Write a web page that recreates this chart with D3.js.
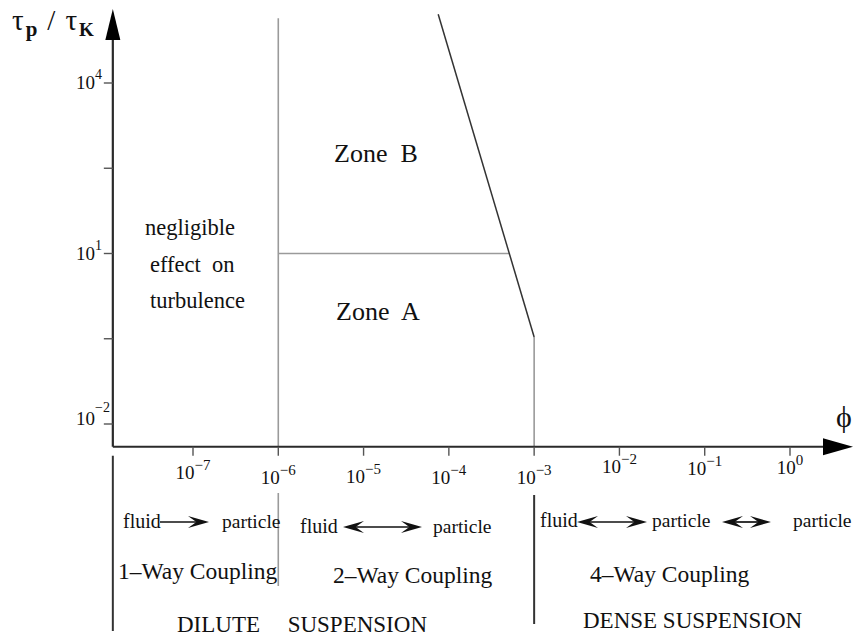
<!DOCTYPE html>
<html><head><meta charset="utf-8">
<script src="https://cdn.jsdelivr.net/npm/d3@7"></script>
<style>
html,body{margin:0;padding:0;background:#fff;}
svg text{font-family:'Liberation Serif','DejaVu Serif',serif;fill:#111;}
</style></head>
<body><svg id="c" width="855" height="639" font-family="'Liberation Serif','DejaVu Serif',serif"></svg>
<script>
// ---- data ----
const xTickValues = [1e-7, 1e-6, 1e-5, 1e-4, 1e-3, 1e-2, 1e-1, 1e0];
const xTickExponents = ["−7", "−6", "−5", "−4", "−3", "−2", "−1", "0"];
const yTickValues = [1e-2, Math.pow(10, -0.5), 1e1, Math.pow(10, 2.5), 1e4];
const yTickExponents = ["−2", "", "1", "", "4"];
const phiOneTwoWay = 1e-6;      // 1-way / 2-way boundary
const phiDilutDense = 1e-3;     // dilute / dense boundary
const tauZoneAB = 1e1;          // zone A / zone B boundary
const phiAxisMin = Math.pow(10, -7.94);
const tauAxisMin = Math.pow(10, -2.4);
const tauGridTop = Math.pow(10, 5.14);
const diagPhi = [Math.pow(10, -4.125), 1e-3];
const diagTau = [Math.pow(10, 5.21), Math.pow(10, -0.47)];

const FONT = "'Liberation Serif','DejaVu Serif',serif";
const svg = d3.select("#c");
const x = d3.scaleLog().domain([1e-7, 1e0]).range([193, 790]);
const y = d3.scaleLog().domain([1e-2, 1e4]).range([424, 83]);

const X0 = x(phiAxisMin), Y0 = y(tauAxisMin);
const axisCol = "#2a2a2a", gridCol = "#9a9a9a";

// zone lines
const g = svg.append("g");
g.append("line").attr("x1", x(phiOneTwoWay)).attr("x2", x(phiOneTwoWay))
  .attr("y1", y(tauGridTop)).attr("y2", Y0).attr("stroke", gridCol).attr("stroke-width", 1.6);
const lp0 = Math.log10(diagPhi[0]), lp1 = Math.log10(diagPhi[1]);
const lt0 = Math.log10(diagTau[0]), lt1 = Math.log10(diagTau[1]);
const tI = (Math.log10(tauZoneAB) - lt0) / (lt1 - lt0);
const phiI = Math.pow(10, lp0 + tI * (lp1 - lp0));
g.append("line").attr("x1", x(phiOneTwoWay)).attr("x2", x(phiI))
  .attr("y1", y(tauZoneAB)).attr("y2", y(tauZoneAB)).attr("stroke", gridCol).attr("stroke-width", 1.6);
g.append("line").attr("x1", x(phiDilutDense)).attr("x2", x(phiDilutDense))
  .attr("y1", y(diagTau[1])).attr("y2", Y0).attr("stroke", gridCol).attr("stroke-width", 1.6);
g.append("path").datum(diagPhi.map((p, i) => [p, diagTau[i]]))
  .attr("d", d3.line().x(d => x(d[0])).y(d => y(d[1])))
  .attr("fill", "none").attr("stroke", "#333").attr("stroke-width", 1.5);

// axes
const ax = svg.append("g");
ax.append("line").attr("x1", X0).attr("x2", X0).attr("y1", Y0).attr("y2", 38)
  .attr("stroke", axisCol).attr("stroke-width", 2.2);
ax.append("path").attr("d", `M${X0},9 L${X0 - 7.5},40 L${X0 + 7.5},40 Z`).attr("fill", "#000");
ax.append("line").attr("x1", X0).attr("x2", 826).attr("y1", Y0).attr("y2", Y0)
  .attr("stroke", axisCol).attr("stroke-width", 2.2);
ax.append("path").attr("d", `M853,${Y0} L823,${Y0 - 8.5} L823,${Y0 + 8.5} Z`).attr("fill", "#000");

// x ticks
const xt = svg.append("g").selectAll("g").data(xTickValues).join("g")
  .attr("transform", d => `translate(${x(d)},0)`);
xt.append("line").attr("y1", Y0).attr("y2", Y0 + 9).attr("stroke", "#555").attr("stroke-width", 1.4);
const xBase = [479, 484, 483, 484, 484, 473, 475, 474];
xt.append("text").attr("y", (d, i) => xBase[i]).attr("text-anchor", "middle")
  .attr("font-family", FONT).attr("font-size", 19).attr("fill", "#222")
  .each(function (d, i) {
    const t = d3.select(this);
    t.append("tspan").text("10");
    t.append("tspan").attr("font-size", 15).attr("dy", -9).text(xTickExponents[i]);
  });

// y ticks
const yt = svg.append("g").selectAll("g").data(yTickValues).join("g")
  .attr("transform", d => `translate(0,${y(d)})`);
yt.append("line").attr("x1", X0 - 9).attr("x2", X0).attr("stroke", "#555").attr("stroke-width", 1.4);
yt.filter((d, i) => yTickExponents[i] !== "").append("text")
  .attr("x", 76).attr("y", d => yTickExponents[yTickValues.indexOf(d)] === "−2" ? 1 : 6)
  .attr("font-family", FONT).attr("font-size", 19).attr("fill", "#222")
  .each(function (d) {
    const e = yTickExponents[yTickValues.indexOf(d)];
    const t = d3.select(this);
    t.append("tspan").text("10");
    t.append("tspan").attr("font-size", 14).attr("dy", e === "−2" ? -13 : -10).text(e);
  });

// axis labels
const yl = svg.append("text").attr("x", 12).attr("y", 30).attr("font-size", 29).attr("font-family", FONT);
yl.append("tspan").text("τ");
yl.append("tspan").attr("font-size", 21).attr("font-weight", "bold").attr("dx", 2).attr("dy", 6).text("p");
yl.append("tspan").attr("dy", -6).attr("dx", 10).text("/");
yl.append("tspan").attr("dx", 10).text("τ");
yl.append("tspan").attr("font-size", 19).attr("font-weight", "bold").attr("dx", 2).attr("dy", 6).text("K");
svg.append("text").attr("x", 844).attr("y", 427).attr("text-anchor", "middle").attr("font-family", FONT).attr("font-size", 30).text("ϕ");

// text helper
const lab = (t, xx, yy, fs, anchor) => svg.append("text").attr("x", xx).attr("y", yy)
  .attr("font-family", FONT).attr("font-size", fs).attr("text-anchor", anchor || "start")
  .style("white-space", "pre").text(t);
lab("Zone  B", 376, 162, 26, "middle");
lab("Zone  A", 378, 320, 26, "middle");
lab("negligible", 145, 235, 22.5);
lab("effect  on", 150, 272, 22.5);
lab("turbulence", 150, 308, 22.5);

// lower dividers
const dv = svg.append("g");
dv.append("line").attr("x1", X0).attr("x2", X0).attr("y1", Y0 + 9).attr("y2", 631).attr("stroke", "#333").attr("stroke-width", 2);
dv.append("line").attr("x1", x(phiOneTwoWay)).attr("x2", x(phiOneTwoWay)).attr("y1", 493).attr("y2", 586).attr("stroke", gridCol).attr("stroke-width", 1.6);
dv.append("line").attr("x1", x(phiDilutDense)).attr("x2", x(phiDilutDense)).attr("y1", 495).attr("y2", 624).attr("stroke", "#333").attr("stroke-width", 2);

// coupling arrows
function head(tipX, tipY, dir) {
  const L = 21, w = 6;
  return `M${tipX},${tipY} L${tipX - dir * L},${tipY - w} L${tipX - dir * L * 0.6},${tipY} L${tipX - dir * L},${tipY + w} Z`;
}
function arrow(x1, x2, yy, both) {
  const a = svg.append("g");
  a.append("line").attr("x1", x1 + (both ? 10 : 0)).attr("x2", x2 - 10).attr("y1", yy).attr("y2", yy).attr("stroke", "#111").attr("stroke-width", 1.7);
  a.append("path").attr("d", head(x2, yy, 1)).attr("fill", "#111");
  if (both) a.append("path").attr("d", head(x1, yy, -1)).attr("fill", "#111");
}
lab("fluid", 123, 528, 20); arrow(160, 209, 522, false); lab("particle", 222, 528, 19.5);
lab("fluid", 300, 533, 20); arrow(343, 422, 527, true); lab("particle", 433, 533, 19.5);
lab("fluid", 540, 527, 20); arrow(577, 647, 522, true); lab("particle", 652, 527, 19.5);
arrow(722, 771, 522, true); lab("particle", 793, 527, 19.5);

lab("1–Way Coupling", 118, 579, 23.5);
lab("2–Way Coupling", 333, 583, 23.5);
lab("4–Way Coupling", 590, 582, 23.5);
lab("DILUTE", 177, 632, 23);
lab("SUSPENSION", 427, 632, 23, "end");
lab("DENSE SUSPENSION", 583, 628, 23);
</script></body></html>
